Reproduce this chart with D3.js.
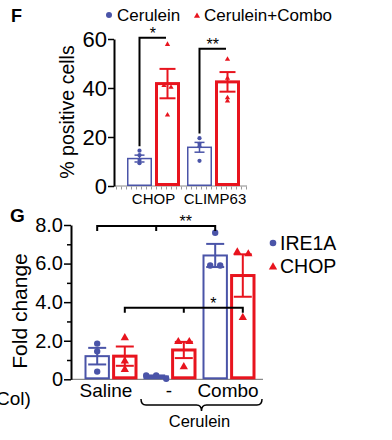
<!DOCTYPE html>
<html>
<head>
<meta charset="utf-8">
<script src="https://cdn.jsdelivr.net/npm/d3@7"></script>
<style>
  body { margin: 0; background: #fff; }
  svg { display: block; font-family: "Liberation Sans", Arial, sans-serif; }
</style>
</head>
<body>
<svg></svg>
<script>
// ---- panel F data ----
var fCats = ['CHOP', 'CLIMP63'];
var fCerMean = [11.2, 15.8];
var fCerSem = [1.4, 2.0];
var fCerPts = [[14.4, 12.6, 10.6, 9.3], [19.5, 17.2, 16.2, 10.3]];
var fComboMean = [41.8, 42.5];
var fComboSem = [6.0, 4.0];
var fComboPts = [[57.8, 41, 40.3, 29], [51.7, 44, 36, 34.7]];
var fTicks = [0, 20, 40, 60];
var fSig = [{cat: 'CHOP', level: 60.5, label: '*'}, {cat: 'CLIMP63', level: 56, label: '**'}];

// ---- panel G data ----
var gCats = ['Saline', '-', 'Combo'];
var gIreMean = [1.2, 0.15, 6.42];
var gIreSem = [0.43, 0.05, 0.6];
var gIrePts = [[1.85, 1.45, 0.4], [0.03, 0.2, 0.2], [7.6, 5.9, 5.9]];
var gChopMean = [1.2, 1.52, 5.38];
var gChopSem = [0.5, 0.42, 1.1];
var gChopPts = [[2.15, 0.95, 0.5], [1.95, 1.95, 0.65], [6.6, 6.5, 3.2]];
var gTicks = [0, 2, 4, 6, 8];
var gMinor = [1, 3, 5, 7];
var gSig = [{series: 'IRE1A', level: 7.95, label: '**'}, {series: 'CHOP', level: 3.71, label: '*'}];

var blue = '#4a54a8', red = '#e8141e';

var svg = d3.select('svg').attr('width', 392).attr('height', 440);

// spread points that sit close together sideways, like the prism scatter
function spread(vals, y, thresh, step) {
    var idx = vals.map((v, i) => i).sort((a, b) => vals[b] - vals[a]);
    var clusters = [], cur = [];
    idx.forEach((i) => {
        if (cur.length && Math.abs(y(vals[i]) - y(vals[cur[cur.length - 1]])) >= thresh) {
            clusters.push(cur); cur = [];
        }
        cur.push(i);
    });
    if (cur.length) clusters.push(cur);
    var off = vals.map(() => 0);
    clusters.forEach((c) => c.forEach((i, k) => { off[i] = (k - (c.length - 1) / 2) * step; }));
    return off;
}

function drawGroup(g, cfg) {
    // cfg: x, w, y, mean, sem, pts, color, barW, errW, cap, shape, size, thresh, step
    var y = cfg.y;
    g.append('rect')
        .attr('x', cfg.x + cfg.barW / 2)
        .attr('y', y(cfg.mean))
        .attr('width', cfg.w - cfg.barW)
        .attr('height', y(0) - y(cfg.mean) - cfg.barW / 2)
        .attr('fill', 'white')
        .attr('stroke', cfg.color)
        .attr('stroke-width', cfg.barW);
    var cx = cfg.x + cfg.w / 2;
    var off = spread(cfg.pts, y, cfg.thresh, cfg.step);
    var sym = d3.symbol().type(cfg.shape).size(cfg.size);
    g.selectAll(null)
        .data(cfg.pts)
        .enter()
        .append('path')
            .attr('d', sym)
            .attr('fill', cfg.color)
            .attr('transform', (d, i) => 'translate(' + (cx + off[i]) + ',' + y(d) + ')');
    var top = y(cfg.mean + cfg.sem), bot = y(cfg.mean - cfg.sem);
    var eb = g.append('g').attr('stroke', cfg.color).attr('stroke-width', cfg.errW).attr('fill', 'none');
    eb.append('line').attr('x1', cx).attr('x2', cx).attr('y1', top).attr('y2', bot);
    eb.append('line').attr('x1', cx - cfg.cap).attr('x2', cx + cfg.cap).attr('y1', top).attr('y2', top);
    eb.append('line').attr('x1', cx - cfg.cap).attr('x2', cx + cfg.cap).attr('y1', bot).attr('y2', bot);
}

// ================= panel F =================
var yF = d3.scaleLinear().domain([0, 60]).range([186, 39]);
var xF = d3.scaleBand().domain(fCats).range([123.5, 243.5]);
var xFi = d3.scaleBand().domain(['cer', 'combo']).range([3.5, 56.5]).paddingInner(0.107);

svg.append('text').attr('x', 11).attr('y', 22).attr('font-size', 18).attr('font-weight', 'bold').text('F');

// legend F
svg.append('circle').attr('cx', 109).attr('cy', 15).attr('r', 3).attr('fill', blue);
svg.append('text').attr('x', 117).attr('y', 21).attr('font-size', 17).text('Cerulein');
svg.append('path').attr('d', d3.symbol().type(d3.symbolTriangle).size(16)).attr('fill', red)
    .attr('transform', 'translate(197,16)');
svg.append('text').attr('x', 204).attr('y', 21).attr('font-size', 17).text('Cerulein+Combo');

var fPlot = svg.append('g');
// baseline
fPlot.append('line').attr('x1', 114).attr('x2', 247).attr('y1', yF(0)).attr('y2', yF(0))
    .attr('stroke', '#8a8a8a').attr('stroke-width', 1);
fPlot.append('line').attr('x1', 116).attr('x2', 247).attr('y1', yF(0) + 2).attr('y2', yF(0) + 2)
    .attr('stroke', '#9a9a9a').attr('stroke-width', 3).attr('stroke-dasharray', '1,4');

fCats.forEach((c, i) => {
    drawGroup(fPlot, {x: xF(c) + xFi('cer'), w: xFi.bandwidth(), y: yF, mean: fCerMean[i], sem: fCerSem[i],
        pts: fCerPts[i], color: blue, barW: 1.5, errW: 1.5, cap: 5, shape: d3.symbolCircle, size: 14, thresh: 2, step: 6});
    drawGroup(fPlot, {x: xF(c) + xFi('combo'), w: xFi.bandwidth(), y: yF, mean: fComboMean[i], sem: fComboSem[i],
        pts: fComboPts[i], color: red, barW: 3, errW: 2, cap: 8, shape: d3.symbolTriangle, size: 12, thresh: 2, step: 7});
});

// significance F
fSig.forEach((s) => {
    var i = fCats.indexOf(s.cat);
    var x1 = xF(s.cat) + xFi('cer') + xFi.bandwidth() / 2;
    var x2 = xF(s.cat) + xFi('combo') + xFi.bandwidth() / 2 - 1.5;
    var yb = yF(fCerMean[i] + fCerSem[i]) - 9;
    fPlot.append('path')
        .attr('d', 'M' + x1 + ',' + yb + 'V' + yF(s.level) + 'H' + x2)
        .attr('fill', 'none').attr('stroke', '#000').attr('stroke-width', 2);
    fPlot.append('text').attr('x', (x1 + x2) / 2).attr('y', yF(s.level) + 1)
        .attr('text-anchor', 'middle').attr('font-size', 16).text(s.label);
});

var fAxis = svg.append('g').attr('transform', 'translate(114,0)')
    .call(d3.axisLeft(yF).tickValues(fTicks).tickSize(6).tickSizeOuter(0).tickPadding(1));
fAxis.select('.domain').attr('stroke-width', 2);
fAxis.selectAll('.tick line').attr('stroke-width', 1.5);
fAxis.selectAll('text').attr('font-size', 22).attr('font-family', null).attr('fill', '#000');

fCats.forEach((c) => {
    svg.append('text').attr('x', xF(c) + xF.bandwidth() / 2 + (c === 'CHOP' ? 0 : 1.5)).attr('y', 204)
        .attr('text-anchor', 'middle').attr('font-size', 15).text(c);
});

svg.append('text').attr('transform', 'translate(74,112) rotate(-90)')
    .attr('text-anchor', 'middle').attr('font-size', 19.5).text('% positive cells');

// ================= panel G =================
var yG = d3.scaleLinear().domain([0, 8]).range([379.3, 225]);
var xG = d3.scaleBand().domain(gCats).range([81.5, 258.5]);
var xGi = d3.scaleBand().domain(['IRE1A', 'CHOP']).range([3, 56]).paddingInner(0.08);

svg.append('text').attr('x', 10).attr('y', 222).attr('font-size', 19).attr('font-weight', 'bold').text('G');

var gPlot = svg.append('g');
gPlot.append('line').attr('x1', 71).attr('x2', 263).attr('y1', yG(0)).attr('y2', yG(0))
    .attr('stroke', '#8a8a8a').attr('stroke-width', 1.2);

gCats.forEach((c, i) => {
    drawGroup(gPlot, {x: xG(c) + xGi('IRE1A'), w: xGi.bandwidth(), y: yG, mean: gIreMean[i], sem: gIreSem[i],
        pts: gIrePts[i], color: blue, barW: 2, errW: 2, cap: 9, shape: d3.symbolCircle, size: 32, thresh: 5, step: 10});
    drawGroup(gPlot, {x: xG(c) + xGi('CHOP'), w: xGi.bandwidth(), y: yG, mean: gChopMean[i], sem: gChopSem[i],
        pts: gChopPts[i], color: red, barW: 3, errW: 2, cap: 9, shape: d3.symbolTriangle, size: 30, thresh: 5, step: 11});
});

// significance G
gSig.forEach((s) => {
    var xs = gCats.map((c) => xG(c) + xGi(s.series) + xGi.bandwidth() / 2);
    var yl = yG(s.level);
    var d = 'M' + xs[0] + ',' + (yl + 5) + 'V' + yl + 'H' + xs[2] + 'V' + (yl + 5) +
        'M' + xs[1] + ',' + yl + 'V' + (yl + 5);
    gPlot.append('path').attr('d', d).attr('fill', 'none').attr('stroke', '#000').attr('stroke-width', 2);
    gPlot.append('text').attr('x', (xs[1] + xs[2]) / 2).attr('y', yl + 1)
        .attr('text-anchor', 'middle').attr('font-size', 16).text(s.label);
});

var gAxis = svg.append('g').attr('transform', 'translate(71,0)')
    .call(d3.axisLeft(yG).tickValues(gTicks).tickSize(7).tickSizeOuter(0).tickPadding(1)
        .tickFormat((d) => d === 0 ? '0' : d3.format('.1f')(d)));
gAxis.select('.domain').attr('stroke-width', 2);
gAxis.selectAll('.tick line').attr('stroke-width', 1.5);
gAxis.selectAll('text').attr('font-size', 20).attr('font-family', null).attr('fill', '#000');
var gMinorAxis = svg.append('g').attr('transform', 'translate(71,0)')
    .call(d3.axisLeft(yG).tickValues(gMinor).tickSize(4).tickFormat(''));
gMinorAxis.select('.domain').remove();
gMinorAxis.selectAll('.tick line').attr('stroke-width', 1.5);

gCats.forEach((c) => {
    svg.append('text').attr('x', xG(c) + xG.bandwidth() / 2 - (c === 'Saline' ? 5 : 1)).attr('y', 397)
        .attr('text-anchor', 'middle').attr('font-size', 19).text(c);
});

// Cerulein brace
var bx1 = xG('-') + 0.5, bx2 = xG('Combo') + xG.bandwidth() + 3.5, bm = (bx1 + bx2) / 2, by = 405;
svg.append('path')
    .attr('d', 'M' + bx1 + ',' + (by - 6) + 'Q' + bx1 + ',' + by + ' ' + (bx1 + 5) + ',' + by +
        'H' + (bm - 5) + 'Q' + bm + ',' + by + ' ' + bm + ',' + (by + 6) +
        'Q' + bm + ',' + by + ' ' + (bm + 5) + ',' + by +
        'H' + (bx2 - 5) + 'Q' + bx2 + ',' + by + ' ' + bx2 + ',' + (by - 6))
    .attr('fill', 'none').attr('stroke', '#000').attr('stroke-width', 1.5);
svg.append('text').attr('x', bm - 2).attr('y', 427).attr('text-anchor', 'middle').attr('font-size', 16.5).text('Cerulein');

svg.append('text').attr('x', -4).attr('y', 405).attr('font-size', 19).text('Col)');

svg.append('text').attr('transform', 'translate(27,311) rotate(-90)')
    .attr('text-anchor', 'middle').attr('font-size', 21).text('Fold change');

// legend G
svg.append('circle').attr('cx', 273).attr('cy', 243).attr('r', 3.3).attr('fill', blue);
svg.append('text').attr('x', 280).attr('y', 250).attr('font-size', 19.5).text('IRE1A');
svg.append('path').attr('d', d3.symbol().type(d3.symbolTriangle).size(30)).attr('fill', red)
    .attr('transform', 'translate(273,267)');
svg.append('text').attr('x', 280).attr('y', 273).attr('font-size', 19.5).text('CHOP');
</script>
</body>
</html>
